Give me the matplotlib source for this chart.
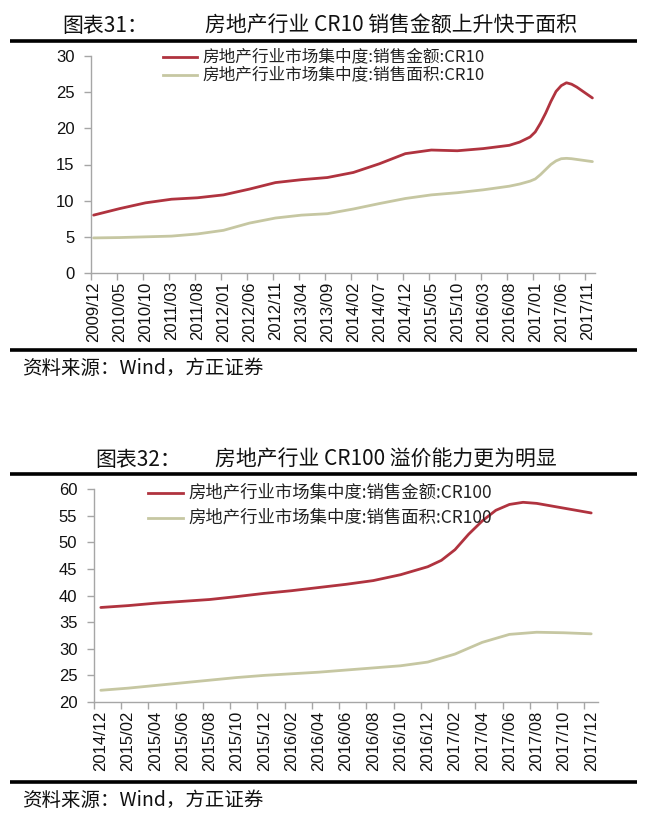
"""
plot.py: CR10 / CR100 concentration of property sales (amount vs. area), two stacked panels.
"""
import matplotlib
matplotlib.use("Agg")
import matplotlib.pyplot as plt
from matplotlib.lines import Line2D

W, H = 650, 818
CJK = ['Noto Sans CJK SC', 'DejaVu Sans']
NUM = ['Liberation Sans', 'DejaVu Sans']
RED = '#B0333F'
KHAKI = '#C6C7A2'
GREY = '#A6A6A6'

# ---- panel 1: CR10, monthly axis 2009/12 .. 2017/12, labels every 5 months
CR10_START = '2009/12'
CR10_END = '2017/12'
CR10_AMT_DATES = ['2009/12', '2010/05', '2010/10', '2011/03', '2011/08', '2012/01',
                  '2012/06', '2012/11', '2013/04', '2013/09', '2014/02', '2014/07',
                  '2014/12', '2015/05', '2015/10', '2016/03', '2016/08', '2016/10',
                  '2016/12', '2017/01', '2017/02', '2017/03', '2017/04', '2017/05',
                  '2017/06', '2017/07', '2017/08', '2017/09', '2017/10', '2017/11',
                  '2017/12']
CR10_AMT = [8.0, 8.9, 9.7, 10.2, 10.4, 10.8,
            11.6, 12.5, 12.9, 13.2, 13.9, 15.1,
            16.5, 17.0, 16.9, 17.2, 17.65, 18.1,
            18.8, 19.5, 20.7, 22.1, 23.7, 25.1,
            25.9, 26.3, 26.1, 25.7, 25.2, 24.7,
            24.2]
CR10_AREA_DATES = ['2009/12', '2010/05', '2010/10', '2011/03', '2011/08', '2012/01',
                   '2012/06', '2012/11', '2013/04', '2013/09', '2014/02', '2014/07',
                   '2014/12', '2015/05', '2015/10', '2016/03', '2016/08', '2016/10',
                   '2016/12', '2017/01', '2017/02', '2017/03', '2017/04', '2017/05',
                   '2017/06', '2017/07', '2017/08', '2017/10', '2017/12']
CR10_AREA = [4.85, 4.9, 5.0, 5.1, 5.4, 5.9,
             6.9, 7.6, 8.0, 8.2, 8.85, 9.6,
             10.3, 10.8, 11.1, 11.5, 12.0, 12.3,
             12.7, 13.0, 13.6, 14.3, 15.0, 15.5,
             15.8, 15.85, 15.8, 15.6, 15.4]

# ---- panel 2: CR100, monthly axis 2014/12 .. 2017/12, labels every 2 months
CR100_START = '2014/12'
CR100_END = '2017/12'
CR100_AMT_DATES = ['2014/12', '2015/02', '2015/04', '2015/06', '2015/08', '2015/10',
                   '2015/12', '2016/02', '2016/04', '2016/06', '2016/08', '2016/10',
                   '2016/12', '2017/01', '2017/02', '2017/03', '2017/04', '2017/05',
                   '2017/06', '2017/07', '2017/08', '2017/10', '2017/12']
CR100_AMT = [37.75, 38.1, 38.55, 38.9, 39.25, 39.8,
             40.4, 40.9, 41.5, 42.1, 42.8, 43.9,
             45.4, 46.6, 48.6, 51.5, 54.0, 56.0,
             57.1, 57.5, 57.3, 56.4, 55.5]
CR100_AREA_DATES = ['2014/12', '2015/02', '2015/04', '2015/06', '2015/08', '2015/10',
                    '2015/12', '2016/02', '2016/04', '2016/06', '2016/08', '2016/10',
                    '2016/12', '2017/02', '2017/04', '2017/06', '2017/08', '2017/10',
                    '2017/12']
CR100_AREA = [22.2, 22.6, 23.1, 23.6, 24.1, 24.6,
              25.0, 25.3, 25.6, 26.0, 26.4, 26.8,
              27.5, 29.0, 31.2, 32.7, 33.1, 33.0,
              32.8]


def month_index(d, start):
    y, m = map(int, d.split('/'))
    y0, m0 = map(int, start.split('/'))
    return (y - y0) * 12 + (m - m0)


def month_label(k, start):
    y0, m0 = map(int, start.split('/'))
    t = y0 * 12 + (m0 - 1) + k
    return f"{t // 12}/{t % 12 + 1:02d}"


def fx(px):
    return px / W


def fy(py):
    return 1 - py / H


def rule(fig, py):
    fig.add_artist(Line2D([fx(10), fx(637)], [fy(py), fy(py)], color='black',
                          lw=2.6, solid_capstyle='butt'))


def legend_row(fig, x0, x1, py, color, text, size):
    fig.add_artist(Line2D([fx(x0), fx(x1)], [fy(py), fy(py)], color=color, lw=2.0))
    fig.text(fx(x1 + 5), fy(py), text, ha='left', va='center', fontsize=size,
             family=CJK, color='#222222')


def style_axis(ax, start, end, step, ymin, ymax, ystep):
    n = month_index(end, start) + 1
    ax.set_xlim(-0.5, n - 0.5)
    ax.set_ylim(ymin, ymax)
    for s in ('top', 'right'):
        ax.spines[s].set_visible(False)
    for s in ('left', 'bottom'):
        ax.spines[s].set_color(GREY)
        ax.spines[s].set_linewidth(1.0)
    labels_at = list(range(0, n, step))
    ax.set_xticks(labels_at)
    ax.set_xticklabels([month_label(k, start) for k in labels_at], rotation=90,
                       family=NUM, fontsize=12, color='#111111')
    ax.set_xticks([k - 0.5 for k in labels_at], minor=True)
    ax.tick_params(axis='x', which='major', length=0, pad=6)
    ax.tick_params(axis='x', which='minor', length=5, width=1.0, color=GREY,
                   direction='out')
    yt = list(range(ymin, ymax + 1, ystep))
    ax.set_yticks(yt)
    ax.set_yticklabels([str(v) for v in yt], family=NUM, fontsize=12, color='#111111')
    ax.tick_params(axis='y', length=5, width=1.0, color=GREY, direction='out', pad=7)


def plot_panel(ax, start, series):
    for dates, vals, color in series:
        xs = [month_index(d, start) for d in dates]
        ax.plot(xs, vals, color=color, lw=2.0, solid_joinstyle='round',
                solid_capstyle='round')


def main():
    fig = plt.figure(figsize=(W / 100, H / 100), dpi=100)
    fig.patch.set_facecolor('white')

    # ---------- top panel
    fig.text(fx(62), fy(26), '图表31：', ha='left', va='center', fontsize=15,
             family=CJK, color='#111111')
    fig.text(fx(205), fy(26), '房地产行业 CR10 销售金额上升快于面积', ha='left',
             va='center', fontsize=15, family=CJK, color='#111111')
    rule(fig, 41)
    ax1 = fig.add_axes([fx(91), fy(273), fx(595) - fx(91), fy(56) - fy(273)])
    style_axis(ax1, CR10_START, CR10_END, 5, 0, 30, 5)
    plot_panel(ax1, CR10_START, [(CR10_AMT_DATES, CR10_AMT, RED),
                                 (CR10_AREA_DATES, CR10_AREA, KHAKI)])
    legend_row(fig, 163, 197, 57, RED, '房地产行业市场集中度:销售金额:CR10', 12)
    legend_row(fig, 163, 197, 75, KHAKI, '房地产行业市场集中度:销售面积:CR10', 12)
    rule(fig, 350)
    fig.text(fx(22), fy(368), '资料来源：Wind，方正证券', ha='left', va='center',
             fontsize=14, family=CJK, color='#111111')

    # ---------- bottom panel
    fig.text(fx(95), fy(460), '图表32：', ha='left', va='center', fontsize=15,
             family=CJK, color='#111111')
    fig.text(fx(215), fy(460), '房地产行业 CR100 溢价能力更为明显', ha='left',
             va='center', fontsize=15, family=CJK, color='#111111')
    rule(fig, 474)
    ax2 = fig.add_axes([fx(94), fy(702), fx(598) - fx(94), fy(489) - fy(702)])
    style_axis(ax2, CR100_START, CR100_END, 2, 20, 60, 5)
    plot_panel(ax2, CR100_START, [(CR100_AMT_DATES, CR100_AMT, RED),
                                  (CR100_AREA_DATES, CR100_AREA, KHAKI)])
    legend_row(fig, 148, 183, 493, RED, '房地产行业市场集中度:销售金额:CR100', 12.5)
    legend_row(fig, 148, 183, 518, KHAKI, '房地产行业市场集中度:销售面积:CR100', 12.5)
    rule(fig, 782)
    fig.text(fx(22), fy(801), '资料来源：Wind，方正证券', ha='left', va='center',
             fontsize=14, family=CJK, color='#111111')

    fig.savefig('out.png', dpi=100, facecolor='white')


if __name__ == "__main__":
    main()
